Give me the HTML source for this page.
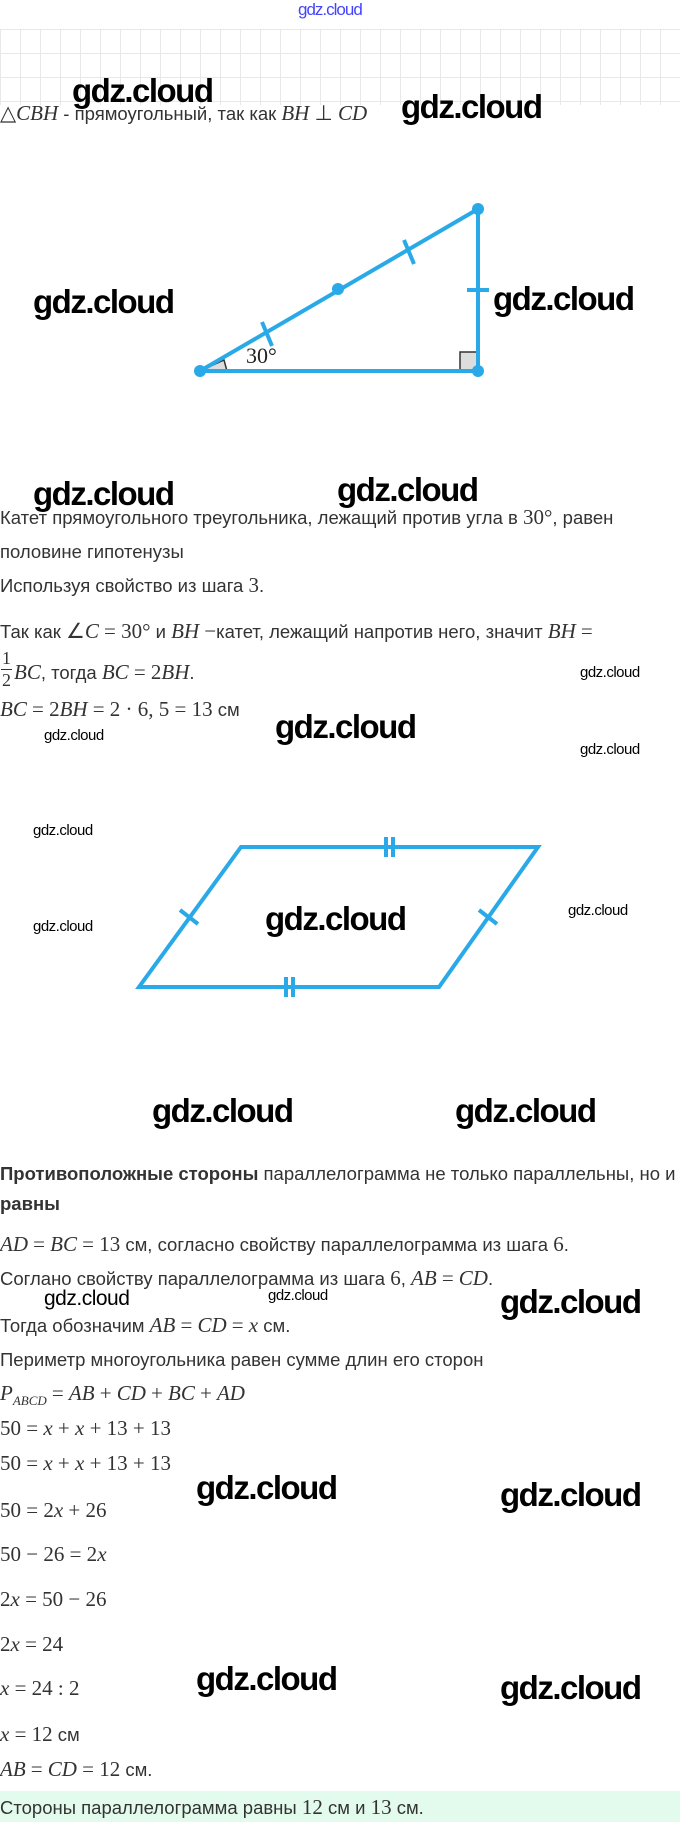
<!DOCTYPE html>
<html><head><meta charset="utf-8"><style>
body{margin:0;width:680px;height:1822px;position:relative;background:#fff;overflow:hidden;font-family:"Liberation Sans",sans-serif;color:#333;}
.t{position:absolute;left:0;font-size:18.5px;white-space:nowrap;line-height:20px;}
.m{font-family:"Liberation Serif",serif;font-style:italic;font-size:21px;}
.n{font-family:"Liberation Serif",serif;font-size:21px;}
.w{position:absolute;font-family:"Liberation Sans",sans-serif;color:#000;white-space:nowrap;letter-spacing:-1px;}
.b{font-size:33px;font-weight:bold;letter-spacing:-1.5px;}
.s{font-size:15px;letter-spacing:-0.5px;}
</style></head><body>
<div class="w" style="left:298px;top:0;font-size:17px;color:#44f;">gdz.cloud</div>
<div style="position:absolute;left:0;top:29px;width:680px;height:76px;background-image:linear-gradient(#e6e6e6 1px,transparent 1px),linear-gradient(90deg,#e6e6e6 1px,transparent 1px);background-size:20px 24px;opacity:.9"></div>
<div class="t" style="top:103px;"><span class="m" style="font-style:normal">△</span><span class="m">CBH</span> - прямоугольный, так как <span class="m">BH</span> <span class="n">⊥</span> <span class="m">CD</span></div>
<div class="w b" style="left:72px;top:72px;">gdz.cloud</div>
<div class="w b" style="left:401px;top:88px;">gdz.cloud</div>
<svg style="position:absolute;left:0;top:0" width="680" height="420">
<polygon points="200,371 224,360 227,371" fill="#ddd" stroke="#333" stroke-width="1.5"/>
<rect x="460" y="352" width="18" height="19" fill="#ddd" stroke="#333" stroke-width="1.5"/>
<g stroke="#29a9e8" stroke-width="4" fill="none">
<line x1="200" y1="371" x2="478" y2="209"/><line x1="478" y1="209" x2="478" y2="371"/><line x1="200" y1="371" x2="478" y2="371"/>
<line x1="262" y1="322" x2="272" y2="346"/><line x1="404" y1="240" x2="414" y2="264"/><line x1="467" y1="290" x2="489" y2="290"/>
</g>
<g fill="#29a9e8"><circle cx="200" cy="371" r="6"/><circle cx="478" cy="209" r="6"/><circle cx="478" cy="371" r="6"/><circle cx="338" cy="289" r="6"/></g>
<text x="246" y="363" font-family="Liberation Serif" font-size="22" fill="#222">30°</text>
</svg>
<div class="w b" style="left:33px;top:283px;">gdz.cloud</div>
<div class="w b" style="left:493px;top:280px;">gdz.cloud</div>
<div class="w b" style="left:33px;top:475px;">gdz.cloud</div>
<div class="w b" style="left:337px;top:471px;">gdz.cloud</div>
<div class="t" style="top:507px;">Катет прямоугольного треугольника, лежащий против угла в <span class="n">30°</span>, равен</div>
<div class="t" style="top:542px;">половине гипотенузы</div>
<div class="t" style="top:575px;">Используя свойство из шага <span class="n">3</span>.</div>
<div class="t" style="top:621px;">Так как <span class="n">∠</span><span class="m">C</span> <span class="n">= 30°</span> и <span class="m">BH</span> <span class="n">−</span>катет, лежащий напротив него, значит <span class="m">BH</span> <span class="n">=</span></div>
<div class="n" style="position:absolute;left:2px;top:649px;font-size:18px;line-height:18px;">1</div>
<div style="position:absolute;left:1px;top:669px;width:11px;height:1px;background:#333"></div>
<div class="n" style="position:absolute;left:2px;top:671px;font-size:18px;line-height:18px;">2</div>
<div class="t" style="left:14px;top:662px;"><span class="m">BC</span>, тогда <span class="m">BC</span> <span class="n">= 2</span><span class="m">BH</span>.</div>
<div class="t" style="top:699px;"><span class="m">BC</span> <span class="n">= 2</span><span class="m">BH</span> <span class="n">= 2 · 6, 5 = 13</span> см</div>
<div class="w s" style="left:580px;top:664px;">gdz.cloud</div>
<div class="w s" style="left:44px;top:727px;">gdz.cloud</div>
<div class="w b" style="left:275px;top:708px;">gdz.cloud</div>
<div class="w s" style="left:580px;top:741px;">gdz.cloud</div>
<svg style="position:absolute;left:0;top:800px" width="680" height="220">
<g stroke="#29a9e8" stroke-width="4" fill="none">
<polygon points="241,47 538,47 439,187 139,187"/>
<line x1="180" y1="110" x2="198" y2="124"/><line x1="479" y1="110" x2="497" y2="124"/>
<line x1="386" y1="37" x2="386" y2="57"/><line x1="393" y1="37" x2="393" y2="57"/>
<line x1="286" y1="177" x2="286" y2="197"/><line x1="293" y1="177" x2="293" y2="197"/>
</g></svg>
<div class="w s" style="left:33px;top:822px;">gdz.cloud</div>
<div class="w s" style="left:33px;top:918px;">gdz.cloud</div>
<div class="w s" style="left:568px;top:902px;">gdz.cloud</div>
<div class="w b" style="left:265px;top:900px;">gdz.cloud</div>
<div class="w b" style="left:152px;top:1092px;">gdz.cloud</div>
<div class="w b" style="left:455px;top:1092px;">gdz.cloud</div>
<div class="t" style="top:1164px;"><b>Противоположные стороны</b> параллелограмма не только параллельны, но и</div>
<div class="t" style="top:1194px;"><b>равны</b></div>
<div class="t" style="top:1234px;"><span class="m">AD</span> <span class="n">=</span> <span class="m">BC</span> <span class="n">= 13</span> см, согласно свойству параллелограмма из шага <span class="n">6</span>.</div>
<div class="t" style="top:1268px;">Соглано свойству параллелограмма из шага <span class="n">6</span>, <span class="m">AB</span> <span class="n">=</span> <span class="m">CD</span>.</div>
<div class="w s" style="left:44px;top:1287px;font-size:21px">gdz.cloud</div>
<div class="w s" style="left:268px;top:1287px;">gdz.cloud</div>
<div class="w b" style="left:500px;top:1283px;">gdz.cloud</div>
<div class="t" style="top:1315px;">Тогда обозначим <span class="m">AB</span> <span class="n">=</span> <span class="m">CD</span> <span class="n">=</span> <span class="m">x</span> см.</div>
<div class="t" style="top:1350px;">Периметр многоугольника равен сумме длин его сторон</div>
<div class="t" style="top:1383px;"><span class="m">P<sub style="font-size:13px">ABCD</sub></span> <span class="n">=</span> <span class="m">AB</span> <span class="n">+</span> <span class="m">CD</span> <span class="n">+</span> <span class="m">BC</span> <span class="n">+</span> <span class="m">AD</span></div>
<div class="t" style="top:1418px;"><span class="n">50 = </span><span class="m">x</span><span class="n"> + </span><span class="m">x</span><span class="n"> + 13 + 13</span></div>
<div class="t" style="top:1453px;"><span class="n">50 = </span><span class="m">x</span><span class="n"> + </span><span class="m">x</span><span class="n"> + 13 + 13</span></div>
<div class="w b" style="left:196px;top:1469px;">gdz.cloud</div>
<div class="w b" style="left:500px;top:1476px;">gdz.cloud</div>
<div class="t" style="top:1500px;"><span class="n">50 = 2</span><span class="m">x</span><span class="n"> + 26</span></div>
<div class="t" style="top:1544px;"><span class="n">50 − 26 = 2</span><span class="m">x</span></div>
<div class="t" style="top:1589px;"><span class="n">2</span><span class="m">x</span><span class="n"> = 50 − 26</span></div>
<div class="t" style="top:1634px;"><span class="n">2</span><span class="m">x</span><span class="n"> = 24</span></div>
<div class="w b" style="left:196px;top:1660px;">gdz.cloud</div>
<div class="w b" style="left:500px;top:1669px;">gdz.cloud</div>
<div class="t" style="top:1678px;"><span class="m">x</span><span class="n"> = 24 : 2</span></div>
<div class="t" style="top:1724px;"><span class="m">x</span><span class="n"> = 12</span> см</div>
<div class="t" style="top:1759px;"><span class="m">AB</span> <span class="n">=</span> <span class="m">CD</span> <span class="n">= 12</span> см.</div>
<div style="position:absolute;left:0;top:1791px;width:680px;height:31px;background:#e3fbec"></div>
<div class="t" style="top:1797px;">Стороны параллелограмма равны <span class="n">12</span> см и <span class="n">13</span> см.</div>
</body></html>
